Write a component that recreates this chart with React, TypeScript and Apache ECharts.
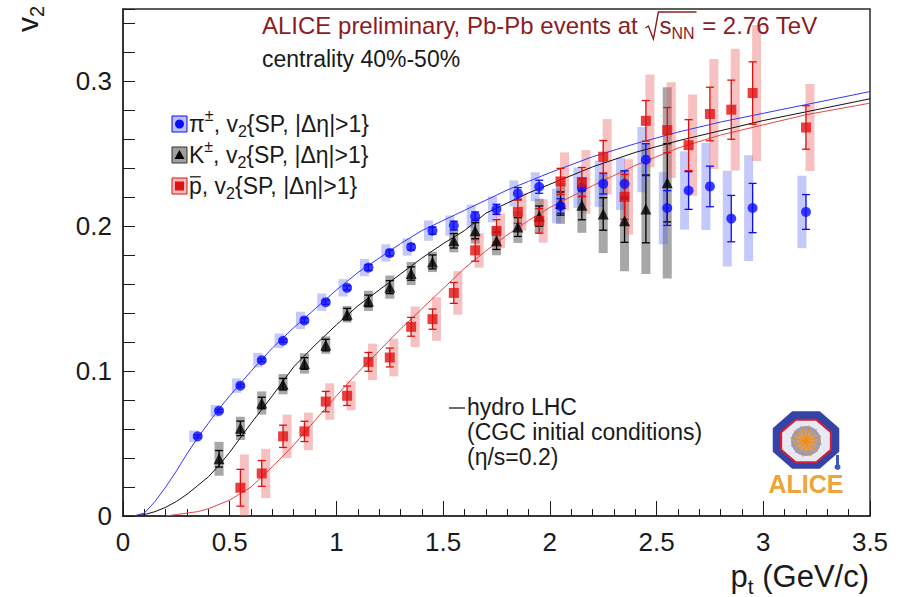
import React, { useEffect, useRef } from "react";
import * as echarts from "echarts";

const FONT = '"Liberation Sans", Arial, Helvetica, sans-serif';

// ---------- data ----------
const pionPt = [0.35, 0.45, 0.55, 0.65, 0.75, 0.85, 0.95, 1.05, 1.15, 1.25, 1.35, 1.45, 1.55, 1.65, 1.75, 1.85, 1.95, 2.05, 2.15, 2.25, 2.35, 2.45, 2.55, 2.65, 2.75, 2.85, 2.95, 3.2];
const pionV2 = [0.055, 0.0726, 0.09, 0.1076, 0.121, 0.135, 0.1476, 0.1575, 0.1715, 0.1816, 0.1857, 0.197, 0.2005, 0.2069, 0.2117, 0.2227, 0.2273, 0.214, 0.2266, 0.2293, 0.2293, 0.246, 0.2126, 0.2247, 0.2275, 0.2053, 0.2126, 0.2099];
const pionStat = [0.001, 0.001, 0.001, 0.001, 0.001, 0.0015, 0.0015, 0.0015, 0.002, 0.002, 0.002, 0.0025, 0.003, 0.003, 0.0035, 0.004, 0.0045, 0.005, 0.006, 0.007, 0.009, 0.011, 0.012, 0.013, 0.014, 0.016, 0.017, 0.012];
const pionSys = [0.004, 0.004, 0.005, 0.005, 0.005, 0.006, 0.006, 0.006, 0.006, 0.006, 0.006, 0.007, 0.007, 0.008, 0.009, 0.009, 0.01, 0.012, 0.014, 0.016, 0.018, 0.0225, 0.025, 0.027, 0.03, 0.033, 0.0365, 0.025];

const kaonPt = [0.45, 0.55, 0.65, 0.75, 0.85, 0.95, 1.05, 1.15, 1.25, 1.35, 1.45, 1.55, 1.65, 1.75, 1.85, 1.95, 2.05, 2.15, 2.25, 2.35, 2.45, 2.55];
const kaonV2 = [0.0395, 0.0605, 0.078, 0.091, 0.1053, 0.118, 0.1393, 0.1485, 0.158, 0.1674, 0.1754, 0.19, 0.197, 0.19, 0.1995, 0.207, 0.2157, 0.2145, 0.2085, 0.2039, 0.212, 0.23];
const kaonStat = [0.0057, 0.005, 0.004, 0.004, 0.004, 0.004, 0.004, 0.004, 0.0045, 0.0046, 0.0048, 0.005, 0.0055, 0.006, 0.0065, 0.007, 0.008, 0.01, 0.0112, 0.015, 0.0234, 0.027];
const kaonSys = [0.0117, 0.008, 0.008, 0.007, 0.007, 0.006, 0.0057, 0.007, 0.008, 0.008, 0.007, 0.008, 0.009, 0.01, 0.011, 0.012, 0.014, 0.019, 0.027, 0.035, 0.045, 0.066];

const protonPt = [0.55, 0.65, 0.75, 0.85, 0.95, 1.05, 1.15, 1.25, 1.35, 1.45, 1.55, 1.65, 1.75, 1.85, 1.95, 2.05, 2.15, 2.25, 2.35, 2.45, 2.55, 2.65, 2.75, 2.85, 2.95, 3.2];
const protonV2 = [0.0195, 0.0294, 0.055, 0.0584, 0.079, 0.083, 0.1064, 0.1094, 0.1306, 0.1359, 0.154, 0.1834, 0.1968, 0.21, 0.2037, 0.231, 0.2306, 0.248, 0.2203, 0.2728, 0.2664, 0.256, 0.2775, 0.2805, 0.292, 0.2682];
const protonStat = [0.0127, 0.0089, 0.0077, 0.007, 0.007, 0.0067, 0.0065, 0.0065, 0.0065, 0.007, 0.0072, 0.0075, 0.0078, 0.008, 0.0085, 0.009, 0.01, 0.0112, 0.0155, 0.014, 0.0156, 0.0176, 0.0185, 0.0204, 0.0215, 0.015];
const protonSys = [0.023, 0.017, 0.015, 0.013, 0.0126, 0.01, 0.0126, 0.013, 0.014, 0.015, 0.015, 0.012, 0.012, 0.013, 0.015, 0.02, 0.022, 0.026, 0.026, 0.032, 0.033, 0.035, 0.038, 0.042, 0.047, 0.03];

const hydroPt = [0.05, 0.1, 0.15, 0.2, 0.25, 0.3, 0.35, 0.4, 0.45, 0.5, 0.6, 0.7, 0.8, 0.9, 1.0, 1.1, 1.2, 1.3, 1.4, 1.5, 1.6, 1.7, 1.8, 1.9, 2.0, 2.2, 2.4, 2.6, 2.8, 3.0, 3.2, 3.5];
const hydroPion = [0, 0.002, 0.01, 0.02, 0.031, 0.043, 0.054, 0.064, 0.074, 0.083, 0.1, 0.116, 0.13, 0.143, 0.156, 0.168, 0.178, 0.188, 0.197, 0.204, 0.211, 0.218, 0.225, 0.231, 0.237, 0.248, 0.257, 0.265, 0.272, 0.278, 0.284, 0.293];
const hydroKaon = [0, 0.001, 0.003, 0.006, 0.01, 0.015, 0.021, 0.027, 0.035, 0.044, 0.064, 0.083, 0.103, 0.118, 0.132, 0.145, 0.156, 0.167, 0.178, 0.188, 0.197, 0.209, 0.216, 0.223, 0.229, 0.241, 0.251, 0.259, 0.266, 0.273, 0.279, 0.288];
const hydroProton = [null, null, null, 0, 0.001, 0.002, 0.003, 0.005, 0.008, 0.011, 0.02, 0.034, 0.049, 0.066, 0.083, 0.099, 0.114, 0.129, 0.143, 0.157, 0.171, 0.183, 0.194, 0.204, 0.213, 0.228, 0.242, 0.254, 0.263, 0.27, 0.277, 0.285];

const xTickLabels = ["0", "0.5", "1", "1.5", "2", "2.5", "3", "3.5"];
const yTickLabels = ["0", "0.1", "0.2", "0.3"];

// ---------- styles ----------
const BLUE = "#0b0bff";
const RED = "#e01010";
const BLACK = "#000000";
const BLUE_BOX = "rgba(90,100,240,0.35)";
const GREY_BOX = "rgba(80,80,80,0.5)";
const PINK_BOX = "rgba(235,100,100,0.4)";
const TITLE_RED = "#8b1c1f";
const TEXT = "#1a1a1a";

let measureCtx: CanvasRenderingContext2D | null = null;
function textWidth(t: string, size: number, weight = "normal") {
  if (!measureCtx) measureCtx = document.createElement("canvas").getContext("2d");
  measureCtx!.font = `${weight} ${size}px ${FONT}`;
  return measureCtx!.measureText(t).width;
}

type Seg = { t: string; k?: "sub" | "sup" | "bar" };
function mathLine(segs: Seg[], x: number, y: number, fs: number, color: string) {
  const els: any[] = [];
  let cx = x;
  for (const s of segs) {
    const small = s.k === "sub" || s.k === "sup";
    const size = small ? Math.round(fs * 0.68) : fs;
    const dy = s.k === "sub" ? fs * 0.34 : s.k === "sup" ? -fs * 0.36 : 0;
    const w = textWidth(s.t, size);
    els.push({
      type: "text",
      x: cx,
      y: y + dy,
      silent: true,
      z: 100,
      style: { text: s.t, fontSize: size, fontFamily: FONT, fill: color, align: "left", verticalAlign: "middle" },
    });
    if (s.k === "bar") {
      els.push({
        type: "line",
        silent: true,
        z: 100,
        shape: { x1: cx + 1, y1: y - fs * 0.4, x2: cx + w - 1, y2: y - fs * 0.4 },
        style: { stroke: color, lineWidth: 1.3 },
      });
    }
    cx += w;
  }
  return { els, end: cx };
}

function sysSeries(pt: number[], v: number[], sys: number[], fill: string, dxPx: number) {
  return {
    type: "custom",
    z: 1,
    silent: true,
    clip: true,
    data: pt.map((p, i) => [p, v[i] - sys[i], v[i] + sys[i]]),
    encode: { x: 0, y: [1, 2] },
    renderItem: (_params: any, api: any) => {
      const lo = api.coord([api.value(0), api.value(1)]);
      const hi = api.coord([api.value(0), api.value(2)]);
      const w = 9;
      return {
        type: "rect",
        shape: { x: lo[0] + dxPx - w / 2, y: hi[1], width: w, height: lo[1] - hi[1] },
        style: { fill, stroke: "none" },
      };
    },
  };
}

function statSeries(pt: number[], v: number[], err: number[], color: string) {
  return {
    type: "custom",
    z: 3,
    silent: true,
    clip: true,
    data: pt.map((p, i) => [p, v[i], err[i]]),
    encode: { x: 0, y: 1 },
    renderItem: (_params: any, api: any) => {
      const x = api.value(0);
      const y = api.value(1);
      const e = api.value(2);
      const lo = api.coord([x, y - e]);
      const hi = api.coord([x, y + e]);
      const cap = 4;
      const st = { stroke: color, lineWidth: 1.3 };
      return {
        type: "group",
        children: [
          { type: "line", shape: { x1: lo[0], y1: lo[1], x2: hi[0], y2: hi[1] }, style: st },
          { type: "line", shape: { x1: lo[0] - cap, y1: lo[1], x2: lo[0] + cap, y2: lo[1] }, style: st },
          { type: "line", shape: { x1: hi[0] - cap, y1: hi[1], x2: hi[0] + cap, y2: hi[1] }, style: st },
        ],
      };
    },
  };
}

function lineSeries(vals: (number | null)[], color: string) {
  const data: number[][] = [];
  hydroPt.forEach((p, i) => {
    const v = vals[i];
    if (v !== null) data.push([p, v]);
  });
  return {
    type: "line",
    z: 2,
    silent: true,
    showSymbol: false,
    symbol: "none",
    data,
    lineStyle: { color, width: 1 },
  };
}

function scatterSeries(pt: number[], v: number[], symbol: string, size: number, color: string) {
  return {
    type: "scatter",
    z: 4,
    silent: true,
    symbol,
    symbolSize: size,
    data: pt.map((p, i) => [p, v[i]]),
    itemStyle: { color, borderWidth: 0 },
  };
}

function octagon(cx: number, cy: number, rx: number, ry: number) {
  const pts: number[][] = [];
  for (let k = 0; k < 8; k++) {
    const a = (Math.PI / 8) + (k * Math.PI) / 4;
    pts.push([cx + rx * Math.cos(a), cy + ry * Math.sin(a)]);
  }
  return pts;
}

function buildGraphics() {
  const g: any[] = [];

  // Title
  const tfs = 24, tx = 262, ty = 25;
  const p1 = mathLine([{ t: "ALICE preliminary, Pb-Pb events at " }], tx, ty, tfs, TITLE_RED);
  g.push(...p1.els);
  const rx = p1.end + 1;
  const p2 = mathLine([{ t: "s" }, { t: "NN", k: "sub" }], rx + 14, ty, tfs, TITLE_RED);
  g.push(...p2.els);
  g.push({
    type: "polyline",
    silent: true,
    z: 100,
    shape: { points: [[rx, ty + 3], [rx + 3, ty + 1], [rx + 8, ty + 14], [rx + 13, ty - 13], [p2.end + 2, ty - 13]] },
    style: { stroke: TITLE_RED, lineWidth: 1.4, fill: null },
  });
  const p3 = mathLine([{ t: " = 2.76 TeV" }], p2.end + 1, ty, tfs, TITLE_RED);
  g.push(...p3.els);

  g.push(...mathLine([{ t: "centrality 40%-50%" }], 262, 59, 23, TEXT).els);

  // Legend
  const lfs = 23;
  const rows: { y: number; segs: Seg[]; fill: string; stroke: string; marker: any }[] = [
    {
      y: 124,
      segs: [{ t: "π" }, { t: "±", k: "sup" }, { t: ", v" }, { t: "2", k: "sub" }, { t: "{SP, |Δη|>1}" }],
      fill: "rgba(90,100,240,0.4)",
      stroke: BLUE,
      marker: { type: "circle", shape: { cx: 179.5, cy: 124, r: 4.5 }, style: { fill: BLUE } },
    },
    {
      y: 155,
      segs: [{ t: "K" }, { t: "±", k: "sup" }, { t: ", v" }, { t: "2", k: "sub" }, { t: "{SP, |Δη|>1}" }],
      fill: "rgba(80,80,80,0.55)",
      stroke: "#333",
      marker: { type: "polygon", shape: { points: [[179.5, 150], [184.5, 159], [174.5, 159]] }, style: { fill: BLACK } },
    },
    {
      y: 186,
      segs: [{ t: "p", k: "bar" }, { t: ", v" }, { t: "2", k: "sub" }, { t: "{SP, |Δη|>1}" }],
      fill: "rgba(235,100,100,0.45)",
      stroke: RED,
      marker: { type: "rect", shape: { x: 175, y: 181.5, width: 9, height: 9 }, style: { fill: RED } },
    },
  ];
  for (const r of rows) {
    g.push({
      type: "rect",
      silent: true,
      z: 100,
      shape: { x: 172, y: r.y - 8, width: 15, height: 16 },
      style: { fill: r.fill, stroke: r.stroke, lineWidth: 1 },
    });
    g.push({ ...r.marker, silent: true, z: 101 });
    g.push(...mathLine(r.segs, 189, r.y, lfs, TEXT).els);
  }

  // Hydro annotation
  g.push({
    type: "line",
    silent: true,
    z: 100,
    shape: { x1: 449, y1: 408, x2: 465, y2: 408 },
    style: { stroke: TEXT, lineWidth: 1.3 },
  });
  g.push(...mathLine([{ t: "hydro LHC" }], 467, 407, 23, TEXT).els);
  g.push(...mathLine([{ t: "(CGC initial conditions)" }], 467, 432, 23, TEXT).els);
  g.push(...mathLine([{ t: "(η/s=0.2)" }], 467, 457, 23, TEXT).els);

  // Axis titles
  const yfs = 30;
  const vw = textWidth("v", yfs);
  g.push({
    type: "group",
    x: 27,
    y: 32,
    rotation: Math.PI / 2,
    silent: true,
    z: 100,
    children: [
      { type: "text", x: 0, y: 0, style: { text: "v", fontSize: yfs, fontFamily: FONT, fill: TEXT, align: "left", verticalAlign: "middle" } },
      { type: "text", x: vw, y: yfs * 0.34, style: { text: "2", fontSize: Math.round(yfs * 0.68), fontFamily: FONT, fill: TEXT, align: "left", verticalAlign: "middle" } },
    ],
  });
  const xfs = 31;
  const totalW = textWidth("p", xfs) + textWidth("t", Math.round(xfs * 0.68)) + textWidth(" (GeV/c)", xfs);
  g.push(...mathLine([{ t: "p" }, { t: "t", k: "sub" }, { t: " (GeV/c)" }], 869 - totalW, 576, xfs, TEXT).els);

  // ALICE logo
  const lx = 806, ly = 440;
  g.push({ type: "polygon", silent: true, z: 100, shape: { points: octagon(lx, ly, 36, 31) }, style: { fill: "#3343a6" } });
  g.push({ type: "polygon", silent: true, z: 101, shape: { points: octagon(lx, ly + 1, 27, 23) }, style: { fill: "#e9e9f3", stroke: "#d0203a", lineWidth: 2.2 } });
  g.push({
    type: "circle",
    silent: true,
    z: 102,
    shape: { cx: lx, cy: ly + 1, r: 15 },
    style: {
      fill: new echarts.graphic.RadialGradient(0.5, 0.5, 0.5, [
        { offset: 0, color: "#ff9a20" },
        { offset: 0.45, color: "#d8a070" },
        { offset: 1, color: "#8c9ac4" },
      ]),
    },
  });
  for (let k = 0; k < 12; k++) {
    const a = (k * Math.PI) / 6 + 0.2;
    g.push({
      type: "line",
      silent: true,
      z: 103,
      shape: { x1: lx, y1: ly + 1, x2: lx + 16 * Math.cos(a), y2: ly + 1 + 16 * Math.sin(a) },
      style: { stroke: "#f08a10", lineWidth: 1 },
    });
  }
  g.push({
    type: "text",
    silent: true,
    z: 103,
    x: lx,
    y: 484,
    style: { text: "ALICE", fontSize: 25, fontWeight: "bold", fontFamily: FONT, fill: "#eea43a", align: "center", verticalAlign: "middle" },
  });
  g.push({ type: "rect", silent: true, z: 104, shape: { x: 836, y: 455, width: 3, height: 10 }, style: { fill: "#3a5ac0" } });
  g.push({ type: "circle", silent: true, z: 104, shape: { cx: 837.5, cy: 467, r: 3 }, style: { fill: "#3a5ac0" } });

  return g;
}

function buildOption() {
  return {
    animation: false,
    backgroundColor: "#ffffff",
    grid: { left: 123, right: 37, top: 9, bottom: 81, show: true, borderColor: "#2a2a2a", borderWidth: 1.5, backgroundColor: "transparent" },
    xAxis: {
      type: "value",
      min: 0,
      max: 3.5,
      interval: 0.5,
      axisLine: { show: true, lineStyle: { color: "#2a2a2a", width: 1.5 } },
      axisTick: { show: true, inside: true, length: 15, lineStyle: { color: "#1a1a1a", width: 1 } },
      minorTick: { show: true, splitNumber: 5, length: 7, lineStyle: { color: "#1a1a1a", width: 1 } },
      splitLine: { show: false },
      minorSplitLine: { show: false },
      axisLabel: {
        fontSize: 26,
        fontFamily: FONT,
        color: TEXT,
        margin: 13,
        formatter: (v: number) => xTickLabels[Math.round(v / 0.5)] ?? "",
      },
    },
    yAxis: {
      type: "value",
      min: 0,
      max: 0.35,
      interval: 0.02,
      axisLine: { show: true, lineStyle: { color: "#2a2a2a", width: 1.5 } },
      axisTick: { show: true, inside: true, length: 12, lineStyle: { color: "#1a1a1a", width: 1 } },
      splitLine: { show: false },
      axisLabel: {
        fontSize: 26,
        fontFamily: FONT,
        color: TEXT,
        margin: 11,
        formatter: (v: number) => {
          const k = Math.round(v * 10);
          if (Math.abs(v * 10 - k) > 1e-6) return "";
          return yTickLabels[k] ?? "";
        },
      },
    },
    series: [
      sysSeries(kaonPt, kaonV2, kaonSys, GREY_BOX, 0),
      sysSeries(pionPt, pionV2, pionSys, BLUE_BOX, -4),
      sysSeries(protonPt, protonV2, protonSys, PINK_BOX, 4),
      lineSeries(hydroKaon, "#111111"),
      lineSeries(hydroProton, "#e04545"),
      lineSeries(hydroPion, "#3535ff"),
      statSeries(kaonPt, kaonV2, kaonStat, BLACK),
      statSeries(pionPt, pionV2, pionStat, BLUE),
      statSeries(protonPt, protonV2, protonStat, RED),
      scatterSeries(kaonPt, kaonV2, "triangle", 11, BLACK),
      scatterSeries(pionPt, pionV2, "circle", 10, BLUE),
      scatterSeries(protonPt, protonV2, "rect", 10, RED),
    ],
    graphic: buildGraphics(),
  };
}

export default function App() {
  const ref = useRef<HTMLDivElement>(null);
  useEffect(() => {
    if (!ref.current) return;
    const chart = echarts.init(ref.current, null, { renderer: "svg" });
    chart.setOption(buildOption() as any);
    return () => chart.dispose();
  }, []);
  return (
    <div
      ref={ref}
      style={{ position: "fixed", left: 0, top: 0, width: 907, height: 597, background: "#fff" }}
    />
  );
}
